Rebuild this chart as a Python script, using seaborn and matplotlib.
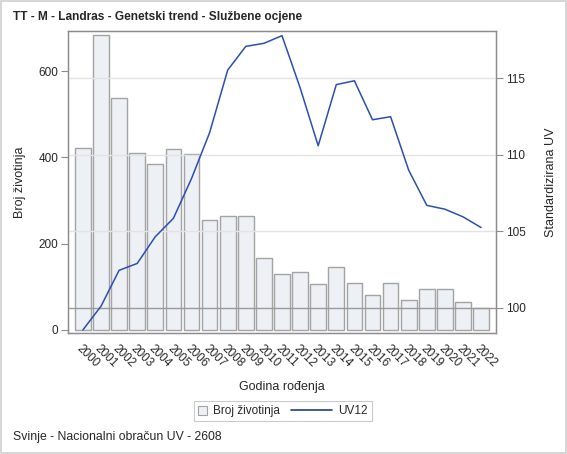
import numpy as np
import pandas as pd
import matplotlib
matplotlib.use("Agg")
import matplotlib.pyplot as plt
import seaborn as sns
from matplotlib.patches import Patch, Rectangle
from matplotlib.lines import Line2D
from matplotlib.legend_handler import HandlerPatch, HandlerBase

years = [str(y) for y in range(2000, 2023)]
counts = [421, 683, 539, 410, 384, 419, 408, 256, 265, 265, 167, 129, 134,
          106, 146, 110, 80, 110, 69, 94, 94, 66, 52]
uv12 = [98.55, 100.1, 102.45, 102.9, 104.65, 105.85, 108.45, 111.45, 115.55,
        117.1, 117.3, 117.8, 114.4, 110.6, 114.6, 114.85, 112.3, 112.5, 109.0,
        106.7, 106.45, 105.95, 105.25]
left_ticks = [0, 200, 400, 600]
right_ticks = [100, 105, 110, 115]

df = pd.DataFrame({"year": years, "count": counts, "uv": uv12})
df["pos"] = np.arange(len(df))

sns.set_style("white")
plt.rcParams["font.family"] = ["Liberation Sans", "DejaVu Sans"]

fig = plt.figure(figsize=(5.67, 4.54), dpi=100)
ax = fig.add_axes([0.120, 0.2665, 0.755, 0.665])

frame_col = "#8c8c8c"
sns.barplot(data=df, x="year", y="count", ax=ax, color="#edf0f5",
            edgecolor="#a3a3a3", linewidth=1.0, width=0.87, saturation=1)
ax.set_xlim(-0.82, len(df) - 1 + 0.83)
ax.set_ylim(-7, 693)
ax.set_yticks(left_ticks)
ax.set_xlabel("Godina rođenja", fontsize=9, labelpad=8)
ax.set_ylabel("Broj životinja", fontsize=9, labelpad=9)
ax.tick_params(axis="both", which="both", direction="out", length=5, width=0.8,
               color=frame_col, labelsize=8.5, pad=2)
ax.set_xticks(range(len(df)))
ax.set_xticklabels(years, rotation=-45, ha="left", va="top",
                   rotation_mode="anchor", fontsize=8.5)
for s in ax.spines.values():
    s.set_color(frame_col)
    s.set_linewidth(0.9)

ax2 = ax.twinx()
ax2.set_ylim(98.35, 118.1)
ax2.set_yticks(right_ticks)
for t in right_ticks[1:]:
    ax2.axhline(t, color="#e3e3e3", linewidth=1.0, zorder=0)
ax2.axhline(100, color="#9a9a9a", linewidth=1.0, zorder=0)
sns.lineplot(data=df, x="pos", y="uv", ax=ax2, color="#2b4fb0",
             linewidth=1.1, zorder=3)
ax2.set_xlim(-0.82, len(df) - 1 + 0.83)
ax2.set_ylabel("Standardizirana UV", fontsize=9, labelpad=14)
ax2.set_xlabel("")
ax2.tick_params(axis="y", direction="out", length=5, width=0.8,
                color=frame_col, labelsize=8.5, pad=2)
for s in ax2.spines.values():
    s.set_color(frame_col)
    s.set_linewidth(0.9)

fig.text(0.023, 0.962, "TT - M - Landras - Genetski trend - Službene ocjene",
         fontsize=8.6, fontweight="bold", ha="left", va="center")
fig.text(0.023, 0.037, "Svinje - Nacionalni obračun UV - 2608",
         fontsize=8.8, ha="left", va="center")

LEG_FS = 8.5


def small_square(legend, orig_handle, xdescent, ydescent, width, height, fontsize):
    s = width
    return Rectangle((-xdescent, -ydescent + (height - s) / 2), s, s)


class LongLine(HandlerBase):
    def __init__(self, extra, **kw):
        super().__init__(**kw)
        self.extra = extra

    def create_artists(self, legend, orig_handle, xdescent, ydescent,
                       width, height, fontsize, trans):
        y = height / 2 - ydescent
        ln = Line2D([-xdescent - self.extra, -xdescent + width], [y, y],
                    color=orig_handle.get_color(),
                    linewidth=orig_handle.get_linewidth(), transform=trans)
        return [ln]


handles = [Patch(facecolor="#edf0f5", edgecolor="#a3a3a3", linewidth=0.8),
           Line2D([0], [0], color="#1f3d8f", linewidth=1.2)]
leg = fig.legend(handles, ["Broj životinja", "UV12"], loc="center",
                 bbox_to_anchor=(0.499, 0.094), ncol=2, fontsize=LEG_FS,
                 frameon=True, fancybox=False, handlelength=0.76,
                 handleheight=0.76, columnspacing=3.64, handletextpad=0.5,
                 borderpad=0.35,
                 handler_map={Patch: HandlerPatch(patch_func=small_square),
                              Line2D: LongLine(extra=2.7 * LEG_FS)})
leg.get_frame().set_edgecolor("#bdbdbd")
leg.get_frame().set_linewidth(0.8)

fig.patches.append(Rectangle((0.002, 0.002), 0.996, 0.996, transform=fig.transFigure,
                             fill=False, edgecolor="#cfcfcf", linewidth=1.2))

fig.savefig("out.png", dpi=100)
